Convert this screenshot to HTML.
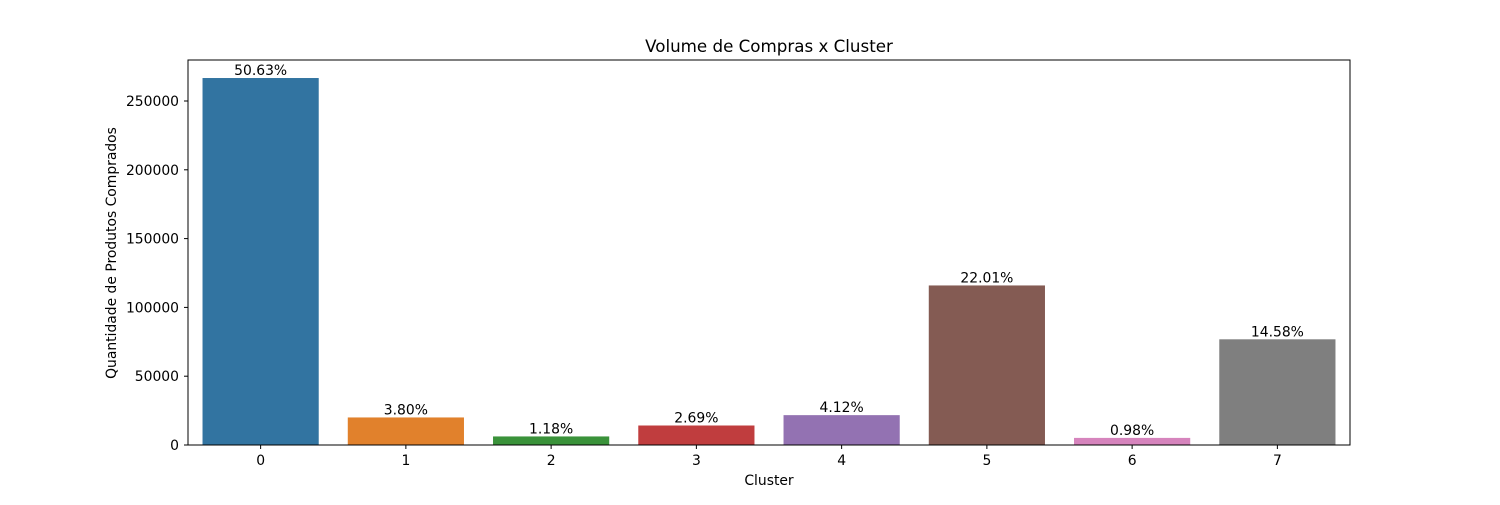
<!DOCTYPE html>
<html><head><meta charset="utf-8"><style>
body{margin:0;background:#fff}
svg text{font-family:"DejaVu Sans",sans-serif;fill:#000}
</style></head><body>
<svg id="chart" width="1500" height="500" xmlns="http://www.w3.org/2000/svg">
<rect width="1500" height="500" fill="#fff"/>
<text x="769" y="52" font-size="16.7" text-anchor="middle">Volume de Compras x Cluster</text>
<text x="769" y="485" font-size="13.9" text-anchor="middle">Cluster</text>
<text transform="translate(116,253) rotate(-90)" font-size="13.9" text-anchor="middle">Quantidade de Produtos Comprados</text>
<g id="bars"></g><g id="axes"></g>
<rect x="188" y="60" width="1162" height="385" fill="none" stroke="#000" stroke-width="1"/>
</svg>
<script>
const categories = ["0","1","2","3","4","5","6","7"];
const values = [266700, 20020, 6220, 14170, 21700, 115950, 5160, 76810];
const labels = ["50.63%","3.80%","1.18%","2.69%","4.12%","22.01%","0.98%","14.58%"];
const yTicks = [0, 50000, 100000, 150000, 200000, 250000];
const colors = ["#3274a1","#e1812c","#3a923a","#c03d3e","#9372b2","#845b53","#d684bd","#7f7f7f"];
const NS="http://www.w3.org/2000/svg";
const L=188,R=1350,T=60,B=445;
const step=(R-L)/categories.length;
const x=i=>L+step*(i+0.5);
const y=v=>B-v*344/250000;
const bars=document.getElementById('bars'), axes=document.getElementById('axes');
function mk(tag,attrs,parent){const e=document.createElementNS(NS,tag);for(const k in attrs)e.setAttribute(k,attrs[k]);parent.appendChild(e);return e;}
categories.forEach((c,i)=>{
  const bw=step*0.8;
  const r=mk('rect',{x:x(i)-bw/2,y:y(values[i]),width:bw,height:B-y(values[i]),fill:colors[i]},bars);
  
  
  const t=mk('text',{x:x(i),y:y(values[i])-3,'font-size':13.9,'text-anchor':'middle'},bars);
  t.textContent=labels[i];
  
  
  const tk=mk('line',{x1:x(i),x2:x(i),y1:B,y2:B+4,stroke:'#000'},axes);
  
  
  const tl=mk('text',{x:x(i),y:B+20,'font-size':13.9,'text-anchor':'middle'},axes);
  tl.textContent=c;
  
  
});
yTicks.forEach(v=>{
  const tk=mk('line',{x1:L-4,x2:L,y1:y(v),y2:y(v),stroke:'#000'},axes);
  
  
  const tl=mk('text',{x:L-9,y:y(v)+5,'font-size':13.9,'text-anchor':'end'},axes);
  tl.textContent=String(v);
  
  
});
</script>
</body></html>
